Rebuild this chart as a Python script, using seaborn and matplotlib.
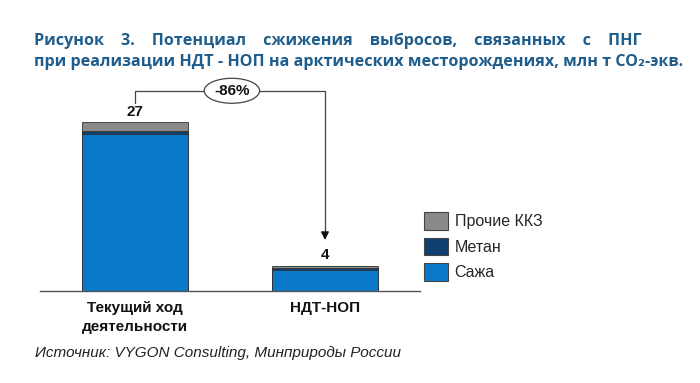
import matplotlib
matplotlib.use("Agg")
import matplotlib.pyplot as plt
import matplotlib.patches as mpatches
import seaborn as sns
import pandas as pd
import numpy as np

categories = ["Текущий ход\nдеятельности", "НДТ-НОП"]
soot = [25.0, 3.3]
methane = [0.6, 0.3]
other = [1.4, 0.4]
totals = ["27", "4"]
change_label = "-86%"
series_names = ["Прочие ККЗ", "Метан", "Сажа"]
colors = {"Сажа": "#0a78c8", "Метан": "#0f3f6e", "Прочие ККЗ": "#8a8a8a"}

sns.set_theme(style="white")
plt.rcParams['font.family'] = ['Liberation Sans', 'DejaVu Sans']

fig = plt.figure(figsize=(7, 3.83), dpi=100)
ax = fig.add_axes([40/700, 92/383, 380/700, 188/383])

df = pd.DataFrame({"cat": categories, "soot": soot, "methane": methane, "other": other})
df["l2"] = df["soot"] + df["methane"]
df["l3"] = df["l2"] + df["other"]

for col, name in [("l3", "Прочие ККЗ"), ("l2", "Метан"), ("soot", "Сажа")]:
    sns.barplot(data=df, x="cat", y=col, color=colors[name], width=0.56,
                edgecolor="#333333", linewidth=0.6, ax=ax, saturation=1)

ax.set_xlim(-0.5, 1.5)
ax.set_ylim(0, 30)
ax.set_xlabel("")
ax.set_ylabel("")
ax.set_yticks([])
ax.set_xticks([])
for s in ["top", "right", "left"]:
    ax.spines[s].set_visible(False)
ax.spines["bottom"].set_color("#555555")
ax.spines["bottom"].set_linewidth(1)

# category labels
for i, c in enumerate(categories):
    ax.text(i, -1.6, c, ha="center", va="top", fontsize=11, fontweight="bold",
            linespacing=1.45, color="#111111")

# totals
ax.text(0, 28.6, totals[0], ha="center", va="center", fontsize=11, fontweight="bold", color="#111111")
ax.text(1, 5.75, totals[1], ha="center", va="center", fontsize=11, fontweight="bold", color="#111111")

# connector
yh = 31.95
ax.plot([0, 0, 1, 1], [30.0, yh, yh, 9.5], color="#444444", lw=0.9, clip_on=False)
ax.annotate("", xy=(1, 7.7), xytext=(1, 9.6),
            arrowprops=dict(arrowstyle="-|>", color="#111111", lw=0.9, mutation_scale=12),
            annotation_clip=False)
ax.text(0.51, yh, change_label, ha="center", va="center", fontsize=11, fontweight="bold",
        color="#111111",
        bbox=dict(boxstyle="ellipse,pad=0.12", fc="white", ec="#444444", lw=0.9),
        clip_on=False)

# legend
handles = [mpatches.Patch(facecolor=colors[n], edgecolor="#444444", linewidth=0.8, label=n)
           for n in series_names]
fig.legend(handles=handles, loc="upper left", bbox_to_anchor=(418/700, 1 - 206/383),
           frameon=False, fontsize=11.5, handlelength=1.5, handleheight=1.3,
           handletextpad=0.4, labelspacing=0.5, borderaxespad=0)

# title
tc = "#1f5d8c"
fig.text(34/700, 1 - 41/383,
         "Рисунок    3.    Потенциал    сжижения    выбросов,    связанных    с    ПНГ",
         ha="left", va="center", fontsize=11.6, fontweight="bold", color=tc,
         family=["Open Sans", "DejaVu Sans"])
fig.text(34/700, 1 - 62/383,
         "при реализации НДТ - НОП на арктических месторождениях, млн т CO₂-экв.",
         ha="left", va="center", fontsize=11.6, fontweight="bold", color=tc,
         family=["Open Sans", "DejaVu Sans"])

# source
fig.text(35/700, 1 - 353/383, "Источник: VYGON Consulting, Минприроды России",
         ha="left", va="center", fontsize=11, style="italic", color="#222222")

fig.savefig("out.png", dpi=100)
